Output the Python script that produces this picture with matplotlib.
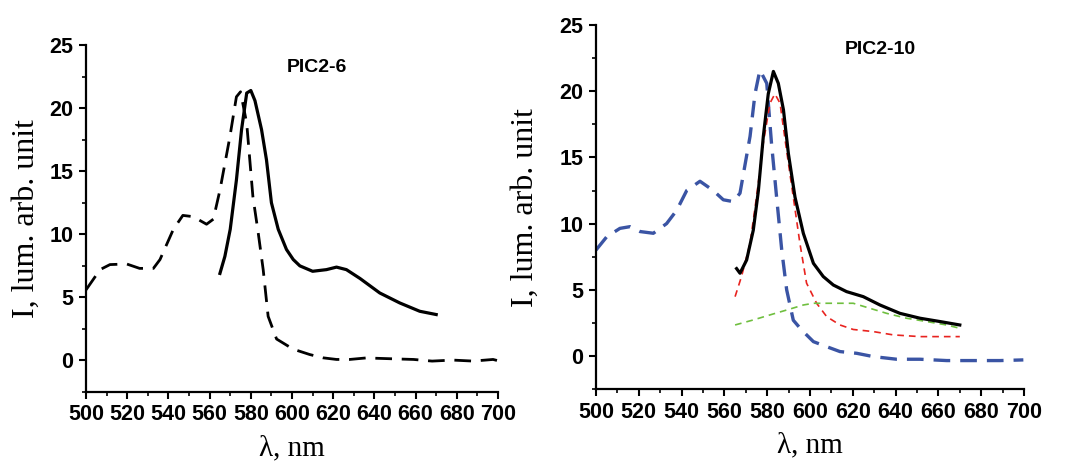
import numpy as np
import matplotlib.pyplot as plt
from matplotlib.ticker import MultipleLocator

# PIC2-6 panel
abs6_x = [500, 506.8, 511.6, 519.7, 526, 532.7, 535.9, 542.4, 547, 552, 558.5, 561.8,
          565, 569.8, 573, 575, 578, 581, 583.6, 586, 588.4, 592.5, 600.5, 608.6, 615,
          621.6, 628, 636, 649, 659, 668, 678, 688, 697.6, 699.5]
abs6_y = [5.6, 7.2, 7.6, 7.65, 7.3, 7.3, 8.0, 10.4, 11.5, 11.4, 10.8, 11.2,
          13.5, 17.7, 20.9, 21.3, 18.8, 13.0, 10.1, 7.2, 3.5, 1.7, 0.9, 0.47, 0.21,
          0.08, 0.08, 0.2, 0.13, 0.08, -0.05, 0.03, -0.05, 0.08, 0.0]
em6_x = [565, 567.4, 570, 573, 575.5, 578, 580, 582, 585.2, 587.6, 590, 593.3, 597.3,
         600.6, 603.8, 610, 616.7, 621.6, 626.4, 633, 642.6, 652.3, 662, 670]
em6_y = [6.9, 8.25, 10.4, 14.3, 18.3, 21.2, 21.4, 20.6, 18.3, 15.9, 12.5, 10.4, 8.8,
         8.0, 7.5, 7.07, 7.2, 7.4, 7.2, 6.5, 5.35, 4.56, 3.9, 3.64]

# PIC2-10 panel
abs10_x = [500, 505, 511.2, 515.9, 520.6, 526.8, 533, 537.7, 542.4, 548.6, 554.8, 559.5,
           564.2, 567.3, 572, 574.3, 576.6, 579.8, 582, 584.4, 586.8, 589.1, 592.2, 596.1,
           601.6, 607.8, 614, 621.8, 629.6, 640.5, 651.4, 663.9, 676.3, 688.8, 699.7]
abs10_y = [8.0, 9.0, 9.64, 9.77, 9.4, 9.27, 10.0, 11.0, 12.5, 13.2, 12.5, 11.8,
           11.66, 12.3, 16.6, 19.8, 21.6, 20.6, 16.1, 12.0, 8.0, 5.0, 2.7, 1.96,
           1.08, 0.7, 0.33, 0.2, -0.05, -0.25, -0.25, -0.35, -0.35, -0.35, -0.3]
em10_x = [565.7, 567.3, 570.4, 573.5, 575.9, 578.2, 580.5, 582.9, 585.2, 587.6, 589.9,
          593, 596.9, 601.6, 606.2, 610.9, 617.1, 624.9, 632.7, 642, 651.4, 660.7, 670]
em10_y = [6.6, 6.25, 7.25, 9.5, 12.5, 16.6, 19.8, 21.5, 20.6, 18.6, 15.3,
          12.0, 9.26, 7.0, 6.0, 5.36, 4.86, 4.48, 3.85, 3.22, 2.85, 2.6, 2.34]
fit1_x = [565, 568, 572, 575, 578.2, 581.3, 583.6, 586, 589, 592.2, 595.3, 598.4,
          603.1, 607.8, 614, 620.2, 629.6, 638.9, 651.4, 670]
fit1_y = [4.48, 6.0, 8.5, 12.0, 16.1, 19.1, 19.8, 19.1, 15.6, 12.0, 8.5, 5.5,
          3.98, 2.97, 2.34, 2.0, 1.84, 1.59, 1.46, 1.46]
fit2_x = [565, 573.5, 581.3, 589.1, 596.9, 601.6, 612.5, 620.2, 628, 635.8, 645.1,
          654.5, 663.8, 670]
fit2_y = [2.34, 2.72, 3.1, 3.47, 3.85, 3.98, 3.98, 3.98, 3.6, 3.22, 2.85,
          2.6, 2.34, 2.09]

fig = plt.figure(figsize=(10.65, 4.65), dpi=100)
ax1 = fig.add_axes([0.0808, 0.157, 0.3868, 0.746])
ax2 = fig.add_axes([0.5596, 0.1634, 0.4019, 0.7826])

ax1.plot(abs6_x, abs6_y, color='black', lw=2.0, ls=(0, (6, 3.5)))
ax1.plot(em6_x, em6_y, color='black', lw=2.3)

ax2.plot(abs10_x, abs10_y, color='#3a54a4', lw=2.4, ls=(0, (5, 3)))
ax2.plot(fit1_x, fit1_y, color='#e8231f', lw=1.2, ls=(0, (4, 3)))
ax2.plot(fit2_x, fit2_y, color='#6fbf3f', lw=1.2, ls=(0, (4, 3)))
ax2.plot(em10_x, em10_y, color='black', lw=2.3)

for ax, title, tx, ty, ylp in [(ax1, 'PIC2-6', 0.56, 0.934, 6),
                               (ax2, 'PIC2-10', 0.664, 0.934, 14)]:
    ax.set_xlim(500, 700)
    ax.set_ylim(-2.5, 25)
    ax.xaxis.set_major_locator(MultipleLocator(20))
    ax.xaxis.set_minor_locator(MultipleLocator(10))
    ax.yaxis.set_major_locator(MultipleLocator(5))
    ax.yaxis.set_minor_locator(MultipleLocator(2.5))
    ax.spines['top'].set_visible(False)
    ax.spines['right'].set_visible(False)
    for s in ['left', 'bottom']:
        ax.spines[s].set_linewidth(1.6)
    ax.tick_params(which='major', direction='out', length=5, width=1.5, pad=4)
    ax.tick_params(which='minor', direction='out', length=3, width=1.2)
    for lab in ax.get_xticklabels() + ax.get_yticklabels():
        lab.set_fontfamily('Liberation Sans')
        lab.set_fontweight('bold')
        lab.set_fontsize(15.5)
    ax.set_xlabel('λ, nm', family='Liberation Serif', fontsize=21, labelpad=7)
    ax.set_ylabel('I, lum. arb. unit', family='Liberation Serif', fontsize=23, labelpad=ylp)
    ax.text(tx, ty, title, transform=ax.transAxes, ha='center', va='center',
            family='Liberation Sans', fontweight='bold', fontsize=14)

fig.savefig('out.png', dpi=100)
